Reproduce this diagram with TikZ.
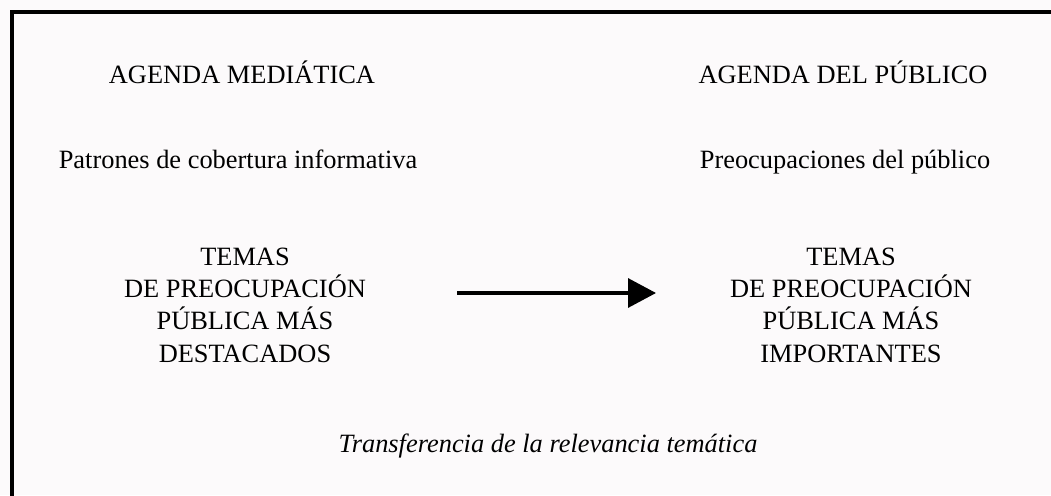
\documentclass[tikz,border=0pt]{standalone}
\usepackage{fontspec}
\setmainfont{Liberation Serif}
\usetikzlibrary{arrows.meta}
\definecolor{bgpaper}{HTML}{FCFAFB}
\tikzset{
  lbl/.style={anchor=base, inner sep=0pt, font=\fontsize{26.4}{32.3}\selectfont},
  blk/.style={anchor=base, inner sep=0pt, align=center, font=\fontsize{26.4}{32.3}\selectfont},
  frame/.style={line width=3.5pt},
  flow/.style={line width=3.3pt, -{Triangle[length=28pt,width=29pt]}}
}
\begin{document}
\begin{tikzpicture}[x=1pt,y=-1pt]
\fill[bgpaper] (0,0) rectangle (1051,495);
\useasboundingbox (0,0) rectangle (1051,495);
\draw[frame] (12,510) -- (12,12) -- (1070,12);
\node[lbl] (agm) at (242,83) {AGENDA MEDIÁTICA};
\node[lbl] (agp) at (843,83) {AGENDA DEL PÚBLICO};
\node[lbl] (pat) at (238,168) {Patrones de cobertura informativa};
\node[lbl] (pre) at (845,168) {Preocupaciones del público};
\node[blk] (tl) at (245,362) {TEMAS\\DE PREOCUPACIÓN\\PÚBLICA MÁS\\DESTACADOS};
\node[blk] (tr) at (851,362) {TEMAS\\DE PREOCUPACIÓN\\PÚBLICA MÁS\\IMPORTANTES};
\node[lbl, font=\fontsize{26.4}{32.3}\selectfont\itshape] (tra) at (548,452) {Transferencia de la relevancia temática};
\coordinate (a1) at (457,293);
\coordinate (a2) at (656,293);
\draw[flow] (a1) -- (a2);
\end{tikzpicture}
\end{document}
